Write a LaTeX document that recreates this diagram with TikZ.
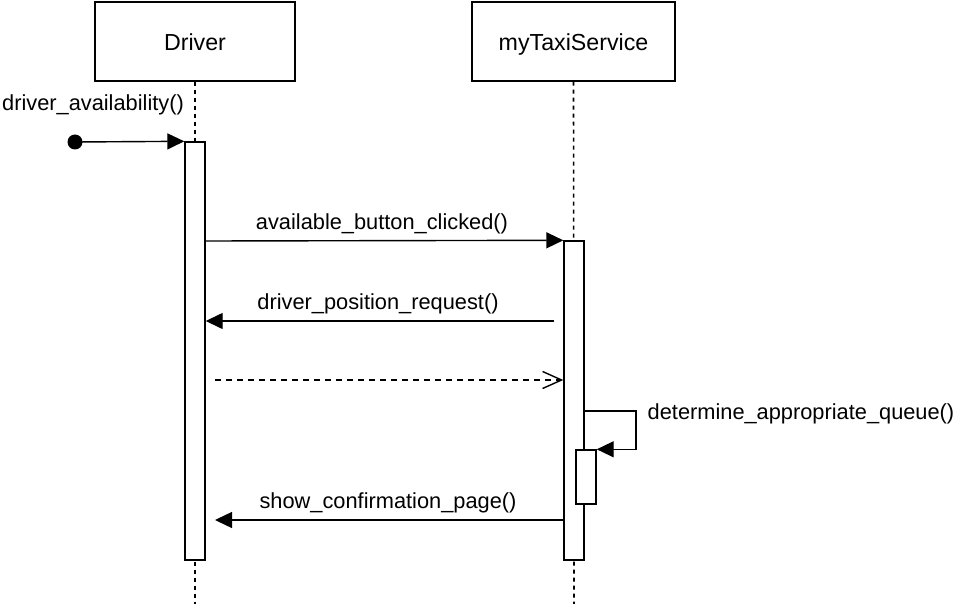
\documentclass[tikz,border=0pt]{standalone}
\usepackage{fontspec}
\setmainfont{Liberation Sans}
\usetikzlibrary{arrows.meta}
\begin{document}
\begin{tikzpicture}[x=1pt,y=-1pt,
  lw/.style={line width=1.4pt},
  head/.style={lw,draw,rectangle,minimum width=200pt,minimum height=79pt,inner sep=0pt,text height=19pt,text depth=0pt,font=\fontsize{23.2}{26}\selectfont},
  act/.style={lw,draw,fill=white,rectangle,minimum width=20pt,inner sep=0pt},
  lifeline/.style={line width=1.6pt,dash pattern=on 4pt off 4pt},
  msg/.style={lw,-{Triangle[length=17pt,width=16pt]}},
  ret/.style={lw,dash pattern=on 6pt off 5pt,-{Straight Barb[length=19pt,width=17pt,line width=1.4pt]}},
  lbl/.style={font=\fontsize{21.8}{24}\selectfont,inner sep=0pt,anchor=base}
]
\useasboundingbox (0,0) rectangle (960,604);
% heads
\node[head] (driver) at (195,41.5) {Driver};
\node[head, minimum width=203pt] (svc) at (573.5,41.5) {myTaxiService};
% lifelines
\coordinate (dend) at (195,604);
\coordinate (send) at (574,604);
\draw[lifeline] (driver.south) -- (dend);
\draw[lifeline] (svc.south) -- (send);
% activations
\node[act,minimum height=418pt] (dact) at (195,351) {};
\node[act,minimum height=319pt] (sact) at (574,400.5) {};
\node[act,minimum height=54pt] (nact) at (586,477) {};
% found message
\node[circle,fill=black,minimum size=15pt,inner sep=0pt] (start) at (75,142) {};
\draw[msg] (start.center) -- (dact.north west);
\node[lbl] (l0) at (93,111) {driver\_availability()};
% messages
\draw[msg] (dact.east |- 0,241) coordinate (m1s) -- (sact.north west);
\node[lbl] (l1) at (382,229) {available\_button\_clicked()};
\coordinate (m2s) at (554,321);
\draw[msg] (m2s) -- (m2s -| dact.east);
\node[lbl] (l2) at (378,309) {driver\_position\_request()};
\coordinate (m3s) at (215,380);
\draw[ret] (m3s) -- (m3s -| sact.west);
\coordinate (m4t) at (215,520);
\draw[msg] (m4t -| sact.west) -- (m4t);
\node[lbl] (l4) at (388,508) {show\_confirmation\_page()};
% self call
\coordinate (s1) at (585,411);
\coordinate (s2) at (636,411);
\draw[msg] (s1) -- (s2) |- (nact.north east);
\node[lbl] (l3) at (801,419) {determine\_appropriate\_queue()};
\end{tikzpicture}
\end{document}
